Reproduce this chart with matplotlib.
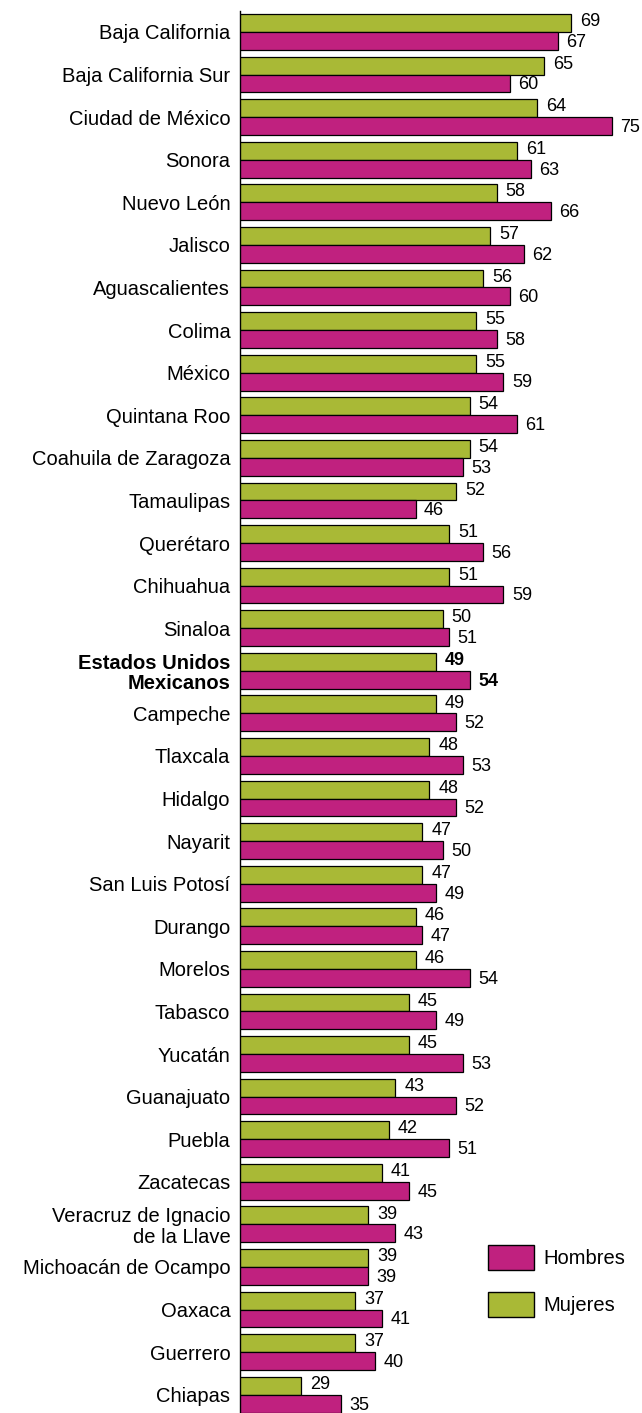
import matplotlib
matplotlib.use("Agg")
import matplotlib.pyplot as plt
from matplotlib.patches import Patch
import numpy as np

# data
estados = [
    "Baja California", "Baja California Sur", "Ciudad de México", "Sonora",
    "Nuevo León", "Jalisco", "Aguascalientes", "Colima", "México",
    "Quintana Roo", "Coahuila de Zaragoza", "Tamaulipas", "Querétaro",
    "Chihuahua", "Sinaloa", "Estados Unidos\nMexicanos", "Campeche",
    "Tlaxcala", "Hidalgo", "Nayarit", "San Luis Potosí", "Durango",
    "Morelos", "Tabasco", "Yucatán", "Guanajuato", "Puebla", "Zacatecas",
    "Veracruz de Ignacio\nde la Llave", "Michoacán de Ocampo", "Oaxaca",
    "Guerrero", "Chiapas",
]
mujeres = [69, 65, 64, 61, 58, 57, 56, 55, 55, 54, 54, 52, 51, 51, 50, 49,
           49, 48, 48, 47, 47, 46, 46, 45, 45, 43, 42, 41, 39, 39, 37, 37, 29]
hombres = [67, 60, 75, 63, 66, 62, 60, 58, 59, 61, 53, 46, 56, 59, 51, 54,
           52, 53, 52, 50, 49, 47, 54, 49, 53, 52, 51, 45, 43, 39, 41, 40, 35]
nacional = "Estados Unidos\nMexicanos"

verde = "#A9B936"
magenta = "#C0217F"
font = "Liberation Sans"

fig = plt.figure(figsize=(6.42, 14.13), dpi=100)
ax = fig.add_axes([240 / 642, 0, 1 - 240 / 642, 1 - 10.7 / 1413])

y = np.arange(len(estados))
h = 0.42
ax.barh(y - h / 2, mujeres, height=h, color=verde,
        edgecolor="black", linewidth=0.9)
ax.barh(y + h / 2, hombres, height=h, color=magenta,
        edgecolor="black", linewidth=0.9)

ax.set_xlim(20, 79.5)
ax.set_ylim(32.43, -0.5)

for i, name in enumerate(estados):
    w = "bold" if name == nacional else "normal"
    ax.annotate(str(mujeres[i]), (mujeres[i], y[i] - h / 2), xytext=(6.5, 1),
                textcoords="offset points", va="center", ha="left",
                fontsize=13, family=font, fontweight=w)
    ax.annotate(str(hombres[i]), (hombres[i], y[i] + h / 2), xytext=(6, -1),
                textcoords="offset points", va="center", ha="left",
                fontsize=13, family=font, fontweight=w)

ax.set_yticks(y)
ax.set_yticklabels(estados, fontsize=14.5, family=font, linespacing=1.1)
for lbl in ax.get_yticklabels():
    if lbl.get_text() == nacional:
        lbl.set_fontweight("bold")
ax.tick_params(axis="y", length=0, pad=7)
ax.set_xticks([])
for s in ["top", "right", "bottom"]:
    ax.spines[s].set_visible(False)
ax.spines["left"].set_linewidth(1.0)

handles = [Patch(facecolor=magenta, edgecolor="black", linewidth=1.0, label="Hombres"),
           Patch(facecolor=verde, edgecolor="black", linewidth=1.0, label="Mujeres")]
fig.legend(handles=handles, loc="upper left",
           bbox_to_anchor=(488 / 642, 1 - 1245 / 1413),
           bbox_transform=fig.transFigure, frameon=False,
           prop={"family": font, "size": 14.5},
           handlelength=2.29, handleheight=1.54, labelspacing=1.07,
           handletextpad=0.45, borderpad=0, borderaxespad=0)

fig.savefig("out.png", dpi=100)
